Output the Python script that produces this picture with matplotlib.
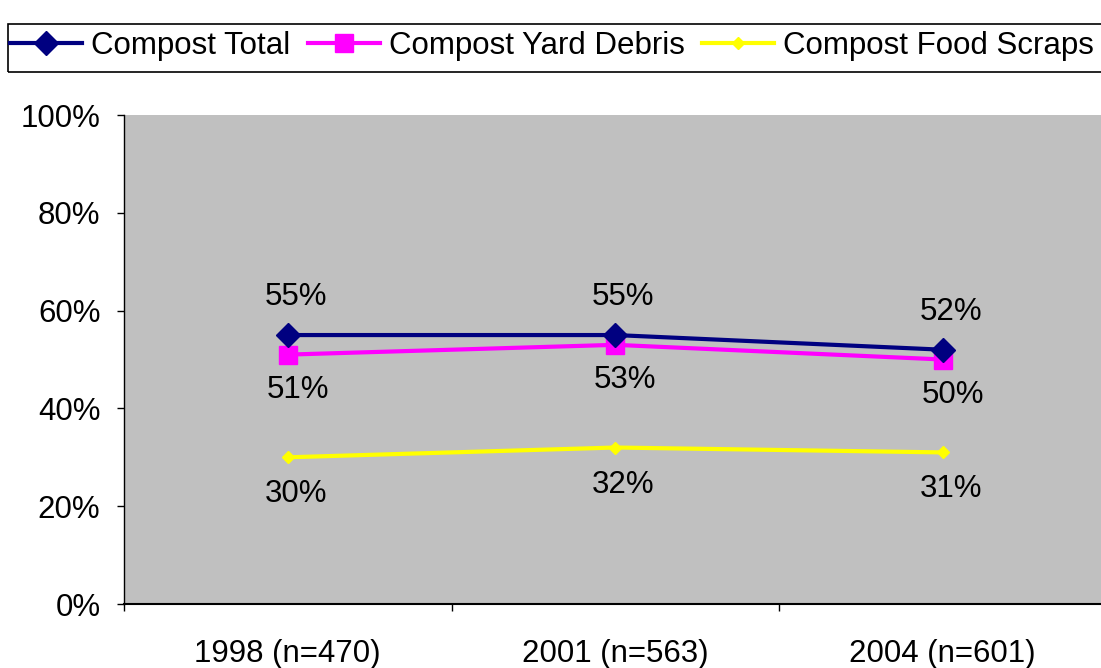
import matplotlib
matplotlib.use("Agg")
import matplotlib.pyplot as plt
from matplotlib.patches import Rectangle

categories = ["1998 (n=470)", "2001 (n=563)", "2004 (n=601)"]
compost_total = [55, 55, 52]
compost_yard = [51, 53, 50]
compost_food = [30, 32, 31]
total_labels = ["55%", "55%", "52%"]
yard_labels = ["51%", "53%", "50%"]
food_labels = ["30%", "32%", "31%"]
yticks = [0, 20, 40, 60, 80, 100]

plt.rcParams['font.family'] = ['Liberation Sans', 'DejaVu Sans']

fig = plt.figure(figsize=(11.01, 6.68), dpi=100)
ax = fig.add_axes([124/1101, 1-604/668, 982.5/1101, 489/668])
ax.set_facecolor('#C0C0C0')

x = list(range(len(categories)))
l1, = ax.plot(x, compost_total, color='#000080', lw=3, marker='D', ms=12.5,
              mfc='#000080', mec='#000080', label='Compost Total', zorder=5)
l2, = ax.plot(x, compost_yard, color='#FF00FF', lw=3, marker='s', ms=13,
              mfc='#FF00FF', mec='#FF00FF', label='Compost Yard Debris', zorder=4)
l3, = ax.plot(x, compost_food, color='#FFFF00', lw=3, marker='D', ms=6,
              mfc='#FFFF00', mec='#FFFF00', label='Compost Food Scraps', zorder=3)

fs = 22.5
for xi, v, t in zip(x, compost_total, total_labels):
    ax.annotate(t, (xi, v), xytext=(8, 38), textcoords='offset pixels',
                ha='center', va='center', fontsize=fs)
for xi, v, t in zip(x, compost_yard, yard_labels):
    ax.annotate(t, (xi, v), xytext=(10, -35), textcoords='offset pixels',
                ha='center', va='center', fontsize=fs)
for xi, v, t in zip(x, compost_food, food_labels):
    ax.annotate(t, (xi, v), xytext=(8, -37), textcoords='offset pixels',
                ha='center', va='center', fontsize=fs)

ax.set_xlim(-0.5, 2.5)
ax.set_ylim(0, 100)
ax.set_yticks(yticks)
ax.set_yticklabels([f"{t}%" for t in yticks], fontsize=fs)
ax.set_xticks([-0.5, 0.5, 1.5, 2.5])
ax.set_xticklabels([])
ax.set_xticks(x, minor=True)
ax.set_xticklabels(categories, minor=True, fontsize=fs)
ax.tick_params(axis='x', which='minor', length=0, pad=25)
ax.tick_params(axis='x', which='major', length=5, width=1, direction='out')
ax.tick_params(axis='y', length=5, width=1, direction='out', pad=12)
for s in ['top', 'right']:
    ax.spines[s].set_visible(False)
ax.spines['left'].set_linewidth(1)
ax.spines['bottom'].set_linewidth(1.5)

# legend box
fig.patches.append(Rectangle((8/1101, 1-72/668), 1110/1101, 48/668,
                             transform=fig.transFigure, fill=False,
                             edgecolor='black', lw=1.2))
fig.legend(handles=[l1, l2, l3], loc='center left',
           bbox_to_anchor=(10/1101, 1-46/668), ncol=3, frameon=False,
           fontsize=fs, handlelength=2.3, handletextpad=0.3,
           columnspacing=0.55, borderaxespad=0, borderpad=0)

fig.savefig("out.png", dpi=100)
